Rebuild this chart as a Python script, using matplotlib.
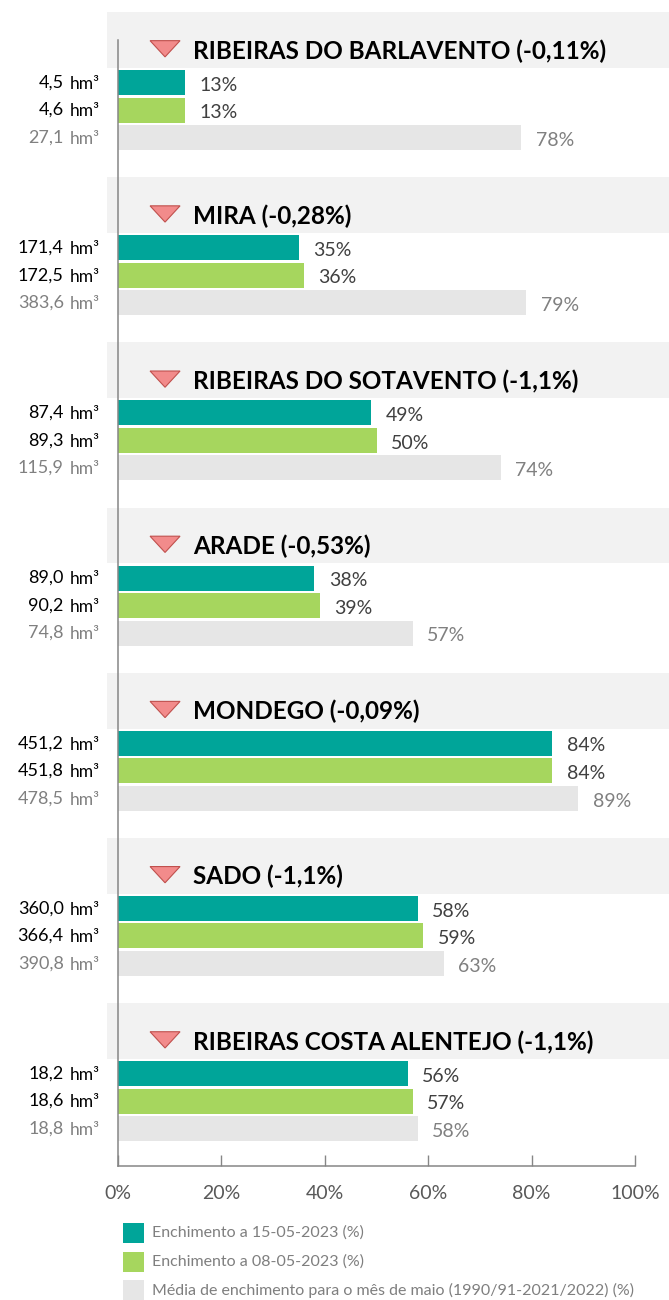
import matplotlib.pyplot as plt
from matplotlib.patches import Rectangle, Polygon

plt.rcParams['font.family'] = ['Lato', 'DejaVu Sans']

# data
basins = ['RIBEIRAS DO BARLAVENTO', 'MIRA', 'RIBEIRAS DO SOTAVENTO', 'ARADE',
          'MONDEGO', 'SADO', 'RIBEIRAS COSTA ALENTEJO']
changes = ['-0,11%', '-0,28%', '-1,1%', '-0,53%', '-0,09%', '-1,1%', '-1,1%']
pct_15 = [13, 35, 49, 38, 84, 58, 56]
pct_08 = [13, 36, 50, 39, 84, 59, 57]
pct_avg = [78, 79, 74, 57, 89, 63, 58]
vol_15 = ['4,5', '171,4', '87,4', '89,0', '451,2', '360,0', '18,2']
vol_08 = ['4,6', '172,5', '89,3', '90,2', '451,8', '366,4', '18,6']
vol_avg = ['27,1', '383,6', '115,9', '74,8', '478,5', '390,8', '18,8']
legend_labels = ['Enchimento a 15-05-2023 (%)',
                 'Enchimento a 08-05-2023 (%)',
                 'Média de enchimento para o mês de maio (1990/91-2021/2022) (%)']
xticks = [0, 20, 40, 60, 80, 100]

teal = '#00A599'
green = '#A6D65E'
grey = '#E6E6E6'
band = '#F2F2F2'
colors = [teal, green, grey]

W, H = 669, 1300
fig = plt.figure(figsize=(W / 100, H / 100), dpi=100)
ax = fig.add_axes([118 / W, (H - 1166) / H, (635 - 118) / W, (1166 - 40) / H])

row = 27.53  # px per bar row
ax.set_xlim(0, 100)
ax.set_ylim((1166 - 82.5) / row, (40 - 82.5) / row)

for i in range(len(basins)):
    base = 6 * i
    # header band + triangle + title
    ax.add_patch(Rectangle((-2.1, base - 2.56), 108.7, 2.03, facecolor=band,
                           edgecolor='none', zorder=0.5, clip_on=False))
    ax.add_patch(Polygon([(6.2, base - 1.52), (12.0, base - 1.52), (9.1, base - 0.93)],
                         closed=True, facecolor='#F28B8B', edgecolor='#C0504D',
                         linewidth=0.8, zorder=3, clip_on=False))
    ax.text(14.5, base - 1.15, f'{basins[i]} ({changes[i]})', fontsize=17.5,
            fontweight='bold', va='center', ha='left', color='black', clip_on=False)

    vals = [pct_15[i], pct_08[i], pct_avg[i]]
    vols = [vol_15[i], vol_08[i], vol_avg[i]]
    for j in range(3):
        y = base + j
        ax.barh(y, vals[j], height=0.91, color=colors[j], zorder=1)
        pc = '#808080' if j == 2 else '#404040'
        ax.text(vals[j] + 2.8, y + 0.1, f'{vals[j]}%', fontsize=14, color=pc,
                va='center', ha='left')
        vc = '#808080' if j == 2 else 'black'
        ax.text(-10.5, y, vols[j], fontsize=13, color=vc, va='center', ha='right',
                clip_on=False)
        ax.text(-9.3, y + 0.05, 'hm³', fontsize=12.5, color=vc, va='center', ha='left',
                clip_on=False)

ax.set_xticks(xticks)
ax.set_xticklabels([f'{t}%' for t in xticks])
ax.set_yticks([])
ax.tick_params(axis='x', direction='in', length=8, width=1, color='#868686',
               labelsize=14, labelcolor='#595959', pad=14)
for s in ['top', 'right']:
    ax.spines[s].set_visible(False)
for s in ['left', 'bottom']:
    ax.spines[s].set_color('#868686')
    ax.spines[s].set_linewidth(1.1)
    ax.spines[s].set_zorder(2.5)

# legend drawn in figure pixels
for k, lab in enumerate(legend_labels):
    yc = 1233 + 28.5 * k
    fig.add_artist(Rectangle((123 / W, (H - yc - 10) / H), 21 / W, 20 / H,
                             facecolor=colors[k], edgecolor='none',
                             transform=fig.transFigure))
    fig.text(152 / W, (H - yc) / H, lab, fontsize=11.5, color='#7F7F7F',
             va='center', ha='left')

fig.savefig('out.png', dpi=100)
